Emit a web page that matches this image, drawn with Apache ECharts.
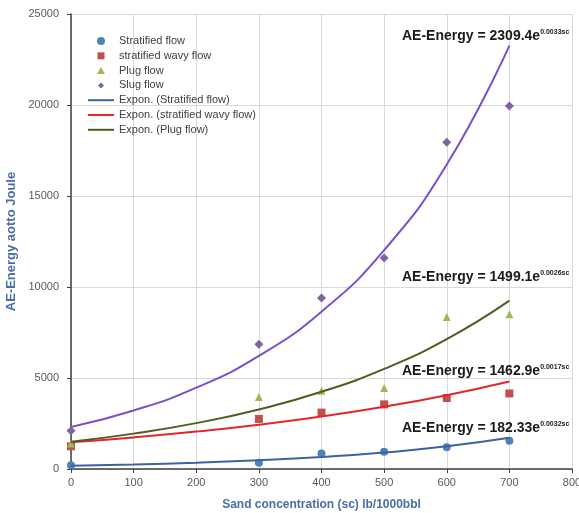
<!DOCTYPE html>
<html>
<head>
<meta charset="utf-8">
<script src="https://cdn.jsdelivr.net/npm/echarts@6/dist/echarts.min.js"></script>
<style>html,body{margin:0;padding:0;background:#fff}#c{width:579px;height:513px}</style>
</head>
<body>
<div id="c"></div>
<script>
// Measured sand concentrations (x) and AE-Energy values
var sandConc = [0, 300, 400, 500, 600, 700];
var stratifiedFlow = [200, 350, 850, 950, 1200, 1550];
var stratifiedWavyFlow = [1250, 2750, 3100, 3550, 3900, 4150];
var plugFlow = [1400, 3950, 4300, 4450, 8350, 8500];
var slugFlow = [2100, 6850, 9400, 11600, 17950, 19950];

// Trend line values
var trendX = [0, 100, 200, 300, 400, 500, 600, 700];
var trendStratified = [182, 251, 346, 476, 656, 903, 1244, 1713];
var trendWavy = [1463, 1734, 2055, 2436, 2888, 3423, 4057, 4809];
var trendPlug = [1499, 1944, 2521, 3270, 4241, 5500, 7134, 9252];
var trendSlug = [2309, 3212, 4468, 6215, 8645, 12025, 16727, 23260];

// Axis ticks
var xTicks = {min: 0, max: 800, interval: 100};
var yTicks = {min: 0, max: 25000, interval: 5000};

var equations = [
  {a: '2309.4', b: '0.0033sc'},
  {a: '1499.1', b: '0.0026sc'},
  {a: '1462.9', b: '0.0017sc'},
  {a: '182.33', b: '0.0032sc'}
];

function pairs(xs, ys) { return xs.map(function (x, i) { return [x, ys[i]]; }); }

var chart = echarts.init(document.getElementById('c'), null, {renderer: 'canvas'});
var FONT = '"Liberation Sans", Arial, sans-serif';
var eqTop = [27, 268, 362, 419];

// legend icons padded to a 26x8 box so shapes keep their size
var PAD = 'M0,0 L0,0 M26,8 L26,8 ';
var icons = {
  rect: 'path://' + PAD + 'M9.5,0.5 L16.5,0.5 L16.5,7.5 L9.5,7.5 Z',
  tri: 'path://' + PAD + 'M13,0.5 L17,7.5 L9,7.5 Z',
  dia: 'path://' + PAD + 'M13,1 L16,4 L13,7 L10,4 Z',
  line: 'path://' + PAD + 'M0,3 L26,3 L26,5 L0,5 Z'
};

var option = {
  backgroundColor: '#fff',
  animation: false,
  grid: {left: 71, right: 7, top: 14, bottom: 44, containLabel: false, outerBoundsMode: 'none'},
  legend: {
    orient: 'vertical', left: 83, top: 29,
    itemWidth: 26, itemHeight: 8, itemGap: 0.8,
    textStyle: {fontFamily: FONT, fontSize: 11, color: '#404040', lineHeight: 14},
    data: [
      {name: 'Stratified flow', icon: 'circle'},
      {name: 'stratified wavy flow', icon: icons.rect},
      {name: 'Plug flow', icon: icons.tri},
      {name: 'Slug flow', icon: icons.dia},
      {name: 'Expon. (Stratified flow)', icon: icons.line},
      {name: 'Expon. (stratified wavy flow)', icon: icons.line},
      {name: 'Expon. (Plug flow)', icon: icons.line}
    ]
  },
  xAxis: {
    type: 'value', min: xTicks.min, max: xTicks.max, interval: xTicks.interval,
    name: 'Sand concentration (sc) lb/1000bbl', nameLocation: 'middle', nameGap: 30,
    nameTextStyle: {fontFamily: FONT, fontSize: 12, fontWeight: 'bold', color: '#4a6ea8'},
    axisLine: {lineStyle: {color: '#404040', width: 1.5}},
    axisTick: {show: true, length: 4, lineStyle: {color: '#404040'}},
    axisLabel: {fontFamily: FONT, fontSize: 11, color: '#595959', margin: 8, formatter: function (v) { return String(v); }},
    splitLine: {show: true, lineStyle: {color: '#d9d9d9', width: 1}}
  },
  yAxis: {
    type: 'value', min: yTicks.min, max: yTicks.max, interval: yTicks.interval,
    name: 'AE-Energy aotto Joule', nameLocation: 'middle', nameGap: 47, nameRotate: 90,
    nameTextStyle: {fontFamily: FONT, fontSize: 13, fontWeight: 'bold', color: '#4a6ea8'},
    axisLine: {show: true, lineStyle: {color: '#404040', width: 1.5}},
    axisTick: {show: true, length: 4, lineStyle: {color: '#404040'}},
    axisLabel: {fontFamily: FONT, fontSize: 11, color: '#595959', margin: 12, formatter: function (v) { return String(v); }},
    splitLine: {show: true, lineStyle: {color: '#d9d9d9', width: 1}}
  },
  series: [
    {name: 'Expon. (Stratified flow)', type: 'line', smooth: true, symbol: 'none',
     data: pairs(trendX, trendStratified), lineStyle: {color: '#3a63a3', width: 2}, itemStyle: {color: '#3a63a3'}},
    {name: 'Expon. (stratified wavy flow)', type: 'line', smooth: true, symbol: 'none',
     data: pairs(trendX, trendWavy), lineStyle: {color: '#e3262b', width: 2}, itemStyle: {color: '#e3262b'}},
    {name: 'Expon. (Plug flow)', type: 'line', smooth: true, symbol: 'none',
     data: pairs(trendX, trendPlug), lineStyle: {color: '#4f5d22', width: 2}, itemStyle: {color: '#4f5d22'}},
    {name: 'Expon. (Slug flow)', type: 'line', smooth: true, symbol: 'none',
     data: pairs(trendX, trendSlug), lineStyle: {color: '#7b4fcc', width: 2}, itemStyle: {color: '#7b4fcc'}},
    {name: 'Stratified flow', type: 'scatter', symbol: 'circle', symbolSize: 8,
     data: pairs(sandConc, stratifiedFlow), itemStyle: {color: '#4f81bd', opacity: 1}},
    {name: 'stratified wavy flow', type: 'scatter', symbol: 'rect', symbolSize: 8,
     data: pairs(sandConc, stratifiedWavyFlow), itemStyle: {color: '#c0504d', opacity: 1}},
    {name: 'Plug flow', type: 'scatter', symbol: 'triangle', symbolSize: 8,
     data: pairs(sandConc, plugFlow), itemStyle: {color: '#9bbb59', opacity: 1}},
    {name: 'Slug flow', type: 'scatter', symbol: 'diamond', symbolSize: 9,
     data: pairs(sandConc, slugFlow), itemStyle: {color: '#8064a2', opacity: 1}}
  ],
  graphic: equations.map(function (eq, i) {
    return {
      type: 'text', left: 402, top: eqTop[i], z: 100,
      style: {
        text: '{m|AE-Energy = ' + eq.a + 'e}{s|' + eq.b + '}',
        rich: {
          m: {fontFamily: FONT, fontSize: 14, fontWeight: 'bold', fill: '#1a1a1a', lineHeight: 16, verticalAlign: 'bottom'},
          s: {fontFamily: FONT, fontSize: 7, fontWeight: 'bold', fill: '#1a1a1a', lineHeight: 16, verticalAlign: 'top', padding: [2, 0, 0, 0]}
        }
      }
    };
  })
};
chart.setOption(option);
</script>
</body>
</html>
